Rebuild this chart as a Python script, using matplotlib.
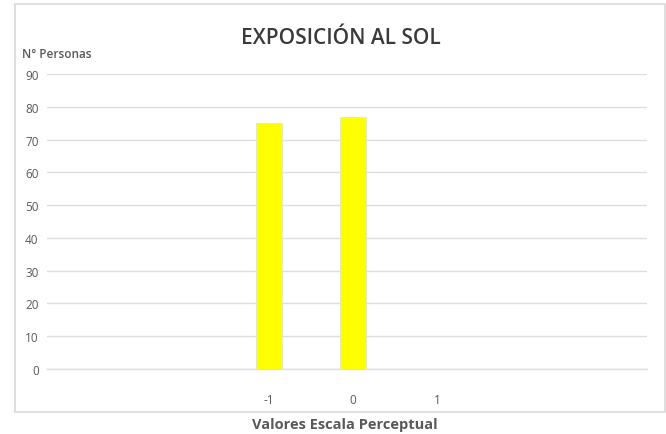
import matplotlib.pyplot as plt
from matplotlib.patches import Rectangle

# Survey counts per perceptual scale value
categorias = [-1, 0, 1]
etiquetas = ["-1", "0", "1"]
personas = [75, 77, 0]
y_ticks = [0, 10, 20, 30, 40, 50, 60, 70, 80, 90]

gris = "#595959"
plt.rcParams["font.family"] = ["Open Sans", "DejaVu Sans"]

fig = plt.figure(figsize=(6.66, 4.35), dpi=100)
ax = fig.add_axes([47 / 666, 65 / 435, 600 / 666, 295 / 435])

# outer chart border
fig.patches.append(Rectangle((15 / 666, 22 / 435), 650 / 666, 408 / 435,
                             transform=fig.transFigure, fill=False,
                             edgecolor="#d9d9d9", linewidth=1.2))

ax.bar(categorias, personas, width=0.31, color="#ffff00",
       edgecolor="#e0e8c0", linewidth=0.6, zorder=3)

ax.set_ylim(0, 90)
ax.set_xlim(-3.64, 3.5)
ax.set_yticks(y_ticks)
ax.set_xticks(categorias)
ax.set_xticklabels(etiquetas)
ax.grid(axis="y", color="#dedede", linewidth=1, zorder=0)
ax.axhline(0, color="#dedede", linewidth=1, zorder=0, clip_on=False)
for s in ax.spines.values():
    s.set_visible(False)
ax.tick_params(length=0, colors=gris, labelsize=8.5)
ax.tick_params(axis="x", pad=17)
ax.tick_params(axis="y", pad=6)

fig.text(0.512, 1 - 38 / 435, "EXPOSICIÓN AL SOL", ha="center", va="center",
         fontsize=15, fontweight="semibold", color="#3a3a3a")
fig.text(22 / 666, 1 - 55 / 435, "N° Personas", ha="left", va="center",
         fontsize=8.5, fontweight="semibold", color=gris)
fig.text(345 / 666, 1 - 425 / 435, "Valores Escala Perceptual", ha="center",
         va="center", fontsize=10.5, fontweight="bold", color=gris)

fig.savefig("out.png", dpi=100)
